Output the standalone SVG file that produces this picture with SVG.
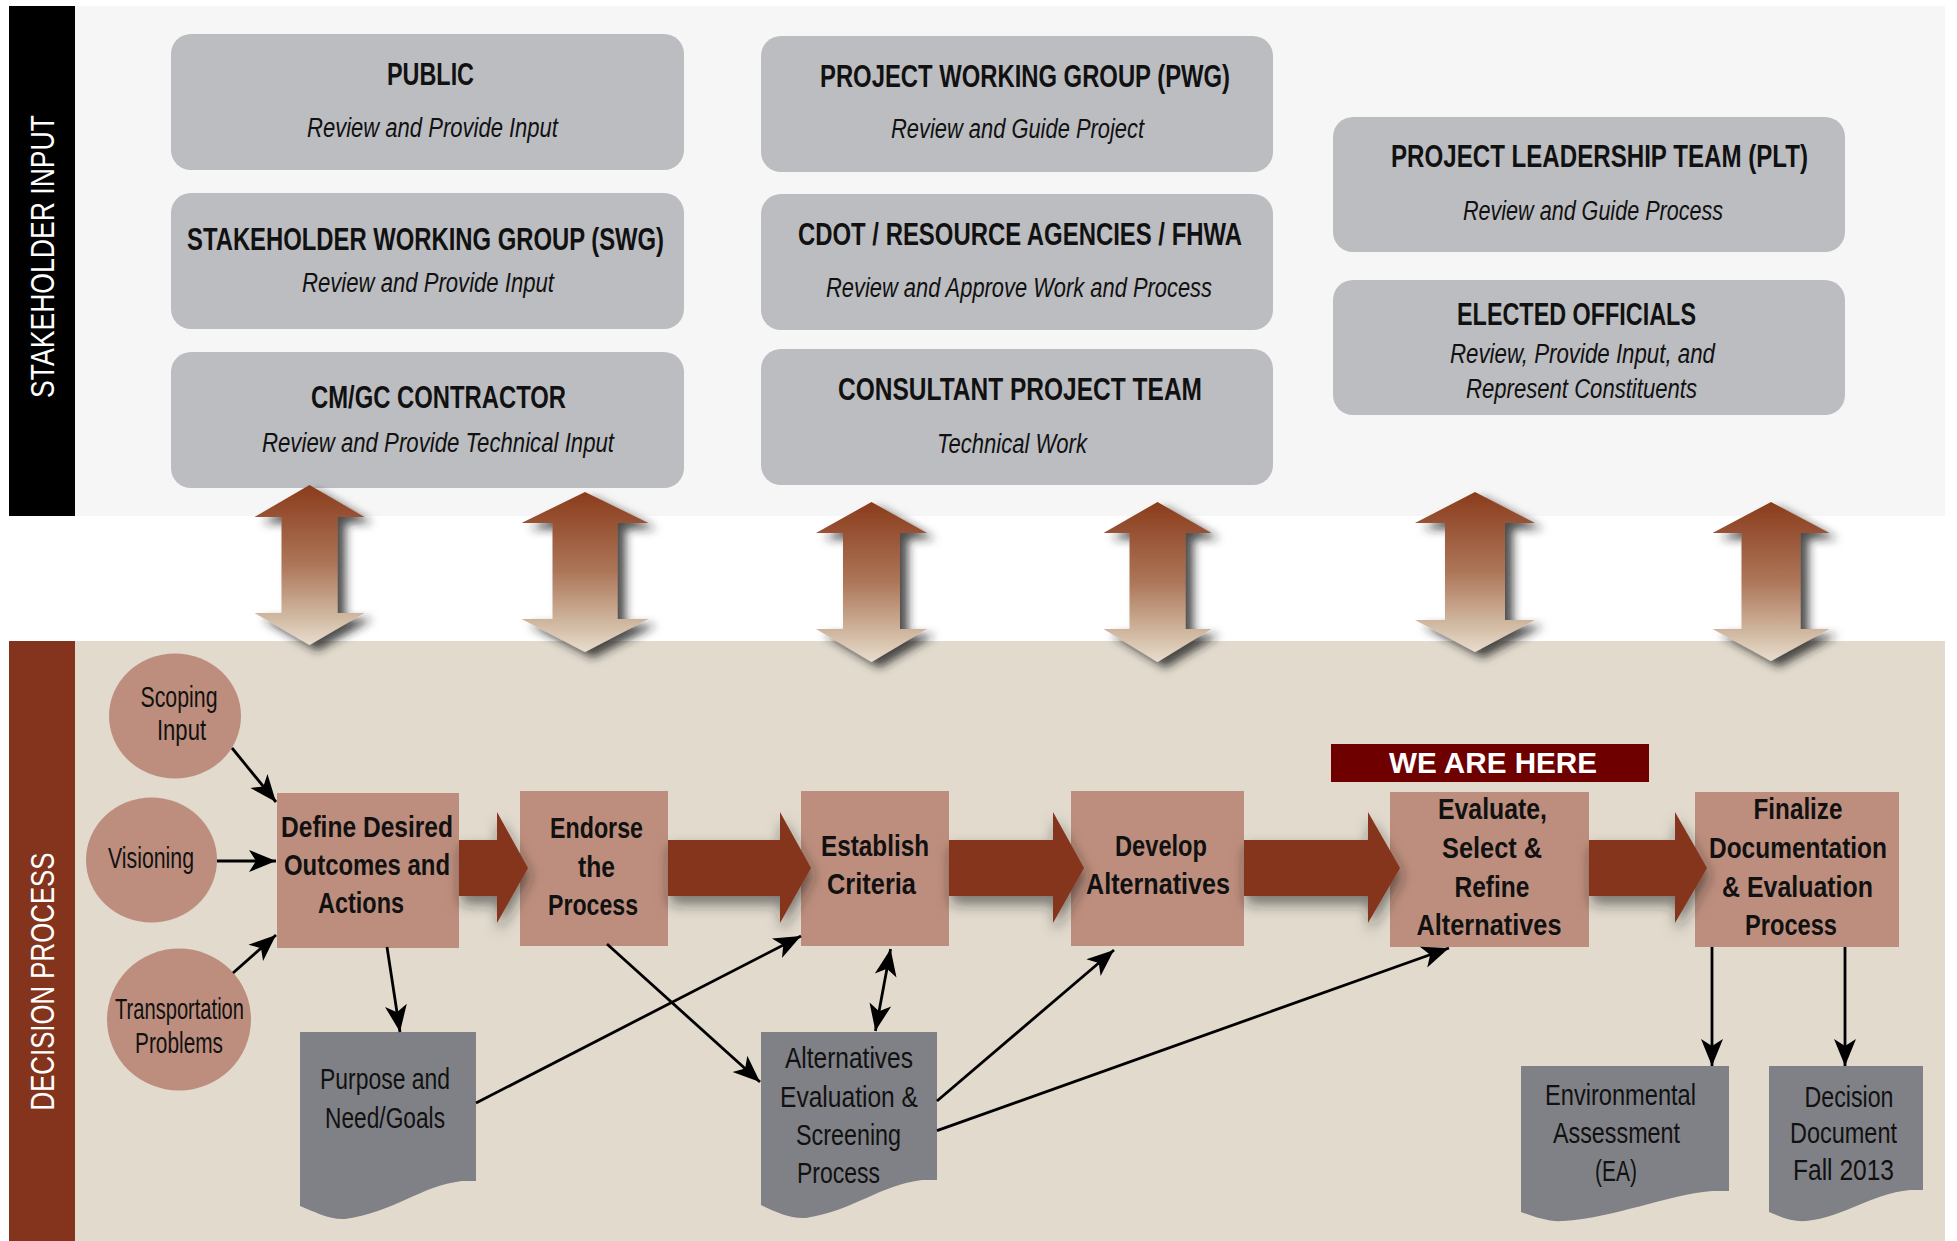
<svg xmlns="http://www.w3.org/2000/svg" width="1957" height="1241" viewBox="0 0 1957 1241">
<defs>
<style>
.sbox{fill:#bcbdc1}
.tt{font-family:"Liberation Sans Narrow","Liberation Sans",Arial,sans-serif;font-weight:bold;font-size:32px;fill:#111;text-anchor:middle}
.ts{font-family:"Liberation Sans Narrow","Liberation Sans",Arial,sans-serif;font-style:italic;font-size:27px;fill:#111;text-anchor:middle}
.side{font-family:"Liberation Sans",Arial,sans-serif;font-size:34px;fill:#fff;text-anchor:middle}
.pbox{fill:#bd8e7d}
.tb{font-family:"Liberation Sans Narrow","Liberation Sans",Arial,sans-serif;font-weight:bold;font-size:29.5px;fill:#111;text-anchor:middle}
.tn{font-family:"Liberation Sans Narrow","Liberation Sans",Arial,sans-serif;font-size:29px;fill:#111;text-anchor:middle}
.doc{fill:#808186}
.conn{stroke:#000;stroke-width:2.8;fill:none;marker-end:url(#ah)}
.barrow{fill:#85351b;filter:url(#bsh)}
.darrow{fill:url(#dg);filter:url(#dsh)}
.here{font-family:"Liberation Sans",Arial,sans-serif;font-weight:bold;font-size:29px;fill:#fff;text-anchor:middle}
</style>
<linearGradient id="dg" x1="0" y1="0" x2="0" y2="1">
<stop offset="0" stop-color="#8a3c1c"/>
<stop offset="0.5" stop-color="#ad7659"/>
<stop offset="0.85" stop-color="#d4bea7"/>
<stop offset="1" stop-color="#e8ddcf"/>
</linearGradient>
<filter id="dsh" x="-40%" y="-20%" width="190%" height="150%">
<feDropShadow dx="8" dy="6" stdDeviation="5" flood-color="#222" flood-opacity="0.8"/>
</filter>
<filter id="bsh" x="-30%" y="-40%" width="160%" height="200%">
<feDropShadow dx="2" dy="8" stdDeviation="7" flood-color="#222" flood-opacity="0.55"/>
</filter>
<marker id="ah" markerUnits="userSpaceOnUse" markerWidth="30" markerHeight="24" viewBox="-28 -12 30 24" refX="0" refY="0" orient="auto-start-reverse">
<path d="M0,0 L-27,-11 L-20,0 L-27,11 Z" fill="#000"/>
</marker>
</defs>

<rect x="0" y="0" width="1957" height="1241" fill="#fff"/>

<g id="stakeholder-panel">
<rect x="9" y="6" width="1936" height="510" fill="#f5f6f5"/>
<rect x="9" y="6" width="66" height="510" fill="#000"/>
<text class="side" transform="translate(54,256.5) rotate(-90)" textLength="283" lengthAdjust="spacingAndGlyphs">STAKEHOLDER INPUT</text>
</g>

<g id="decision-panel">
<rect x="9" y="641" width="1936" height="600" fill="#e1dacd"/>
<rect x="9" y="641" width="66" height="600" fill="#84341c"/>
<text class="side" transform="translate(54,981.5) rotate(-90)" textLength="258" lengthAdjust="spacingAndGlyphs">DECISION PROCESS</text>
</g>

<g id="node-public">
<rect class="sbox" x="171" y="34" width="513" height="136" rx="20"/>
<text class="tt" x="430.5" y="85" textLength="87" lengthAdjust="spacingAndGlyphs">PUBLIC</text>
<text class="ts" x="432.5" y="137" textLength="251" lengthAdjust="spacingAndGlyphs">Review and Provide Input</text>
</g>
<g id="node-swg">
<rect class="sbox" x="171" y="193" width="513" height="136" rx="20"/>
<text class="tt" x="425.5" y="250" textLength="477" lengthAdjust="spacingAndGlyphs">STAKEHOLDER WORKING GROUP (SWG)</text>
<text class="ts" x="428" y="292" textLength="252" lengthAdjust="spacingAndGlyphs">Review and Provide Input</text>
</g>
<g id="node-cmgc">
<rect class="sbox" x="171" y="352" width="513" height="136" rx="20"/>
<text class="tt" x="438.5" y="408" textLength="255" lengthAdjust="spacingAndGlyphs">CM/GC CONTRACTOR</text>
<text class="ts" x="438" y="452" textLength="352" lengthAdjust="spacingAndGlyphs">Review and Provide Technical Input</text>
</g>
<g id="node-pwg">
<rect class="sbox" x="761" y="36" width="512" height="136" rx="20"/>
<text class="tt" x="1025" y="87" textLength="410" lengthAdjust="spacingAndGlyphs">PROJECT WORKING GROUP (PWG)</text>
<text class="ts" x="1017.5" y="138" textLength="253" lengthAdjust="spacingAndGlyphs">Review and Guide Project</text>
</g>
<g id="node-cdot">
<rect class="sbox" x="761" y="194" width="512" height="136" rx="20"/>
<text class="tt" x="1020" y="245" textLength="444" lengthAdjust="spacingAndGlyphs">CDOT / RESOURCE AGENCIES / FHWA</text>
<text class="ts" x="1019" y="297" textLength="386" lengthAdjust="spacingAndGlyphs">Review and Approve Work and Process</text>
</g>
<g id="node-consultant">
<rect class="sbox" x="761" y="349" width="512" height="136" rx="20"/>
<text class="tt" x="1020" y="400" textLength="364" lengthAdjust="spacingAndGlyphs">CONSULTANT PROJECT TEAM</text>
<text class="ts" x="1012" y="453" textLength="150" lengthAdjust="spacingAndGlyphs">Technical Work</text>
</g>
<g id="node-plt">
<rect class="sbox" x="1333" y="117" width="512" height="135" rx="20"/>
<text class="tt" x="1599.5" y="167" textLength="417" lengthAdjust="spacingAndGlyphs">PROJECT LEADERSHIP TEAM (PLT)</text>
<text class="ts" x="1593" y="220" textLength="260" lengthAdjust="spacingAndGlyphs">Review and Guide Process</text>
</g>
<g id="node-elected">
<rect class="sbox" x="1333" y="280" width="512" height="135" rx="20"/>
<text class="tt" x="1576.5" y="325" textLength="239" lengthAdjust="spacingAndGlyphs">ELECTED OFFICIALS</text>
<text class="ts" x="1582.5" y="363" textLength="265" lengthAdjust="spacingAndGlyphs">Review, Provide Input, and</text>
<text class="ts" x="1581.5" y="398" textLength="231" lengthAdjust="spacingAndGlyphs">Represent Constituents</text>
</g>

<g id="node-scoping">
<ellipse class="pbox" cx="175" cy="716" rx="66" ry="62.5"/>
<text class="tn" x="179" y="707" textLength="77" lengthAdjust="spacingAndGlyphs">Scoping</text>
<text class="tn" x="181.5" y="740" textLength="49" lengthAdjust="spacingAndGlyphs">Input</text>
</g>
<g id="node-visioning">
<ellipse class="pbox" cx="151.5" cy="860" rx="65.5" ry="62.5"/>
<text class="tn" x="151" y="868" textLength="86" lengthAdjust="spacingAndGlyphs">Visioning</text>
</g>
<g id="node-transportation">
<ellipse class="pbox" cx="179" cy="1019.5" rx="72" ry="71"/>
<text class="tn" x="179.5" y="1019" textLength="129" lengthAdjust="spacingAndGlyphs">Transportation</text>
<text class="tn" x="179" y="1053" textLength="88" lengthAdjust="spacingAndGlyphs">Problems</text>
</g>

<g id="node-define">
<rect class="pbox" x="277" y="793" width="182" height="155"/>
<text class="tb" x="367" y="837" textLength="172" lengthAdjust="spacingAndGlyphs">Define Desired</text>
<text class="tb" x="367" y="875" textLength="166" lengthAdjust="spacingAndGlyphs">Outcomes and</text>
<text class="tb" x="361" y="913" textLength="86" lengthAdjust="spacingAndGlyphs">Actions</text>
</g>
<g id="node-endorse">
<rect class="pbox" x="520" y="791" width="148" height="155"/>
<text class="tb" x="596.5" y="838" textLength="93" lengthAdjust="spacingAndGlyphs">Endorse</text>
<text class="tb" x="596.5" y="877" textLength="37" lengthAdjust="spacingAndGlyphs">the</text>
<text class="tb" x="593" y="915" textLength="90" lengthAdjust="spacingAndGlyphs">Process</text>
</g>
<g id="node-establish">
<rect class="pbox" x="801" y="791" width="148" height="155"/>
<text class="tb" x="875" y="856" textLength="108" lengthAdjust="spacingAndGlyphs">Establish</text>
<text class="tb" x="871.5" y="894" textLength="89" lengthAdjust="spacingAndGlyphs">Criteria</text>
</g>
<g id="node-develop">
<rect class="pbox" x="1071" y="791" width="173" height="155"/>
<text class="tb" x="1161" y="856" textLength="92" lengthAdjust="spacingAndGlyphs">Develop</text>
<text class="tb" x="1158" y="894" textLength="144" lengthAdjust="spacingAndGlyphs">Alternatives</text>
</g>
<g id="node-here">
<rect x="1331" y="744" width="318" height="38" fill="#6e0000"/>
<text class="here" x="1493" y="773" textLength="208" lengthAdjust="spacingAndGlyphs">WE ARE HERE</text>
</g>
<g id="node-evaluate">
<rect class="pbox" x="1390" y="792" width="199" height="155"/>
<text class="tb" x="1492.5" y="819" textLength="109" lengthAdjust="spacingAndGlyphs">Evaluate,</text>
<text class="tb" x="1492" y="858" textLength="100" lengthAdjust="spacingAndGlyphs">Select &amp;</text>
<text class="tb" x="1492" y="897" textLength="75" lengthAdjust="spacingAndGlyphs">Refine</text>
<text class="tb" x="1489" y="935" textLength="145" lengthAdjust="spacingAndGlyphs">Alternatives</text>
</g>
<g id="node-finalize">
<rect class="pbox" x="1695" y="792" width="204" height="155"/>
<text class="tb" x="1798" y="819" textLength="89" lengthAdjust="spacingAndGlyphs">Finalize</text>
<text class="tb" x="1798" y="858" textLength="178" lengthAdjust="spacingAndGlyphs">Documentation</text>
<text class="tb" x="1797.5" y="897" textLength="151" lengthAdjust="spacingAndGlyphs">&amp; Evaluation</text>
<text class="tb" x="1791" y="935" textLength="92" lengthAdjust="spacingAndGlyphs">Process</text>
</g>

<g id="node-purpose">
<path class="doc" d="M300,1032 H476 V1181 L462,1181 C420,1186 395,1212 345,1219 C330,1220 315,1212 300,1206 Z"/>
<text class="tn" x="385" y="1089" textLength="130" lengthAdjust="spacingAndGlyphs">Purpose and</text>
<text class="tn" x="385" y="1128" textLength="120" lengthAdjust="spacingAndGlyphs">Need/Goals</text>
</g>
<g id="node-alteval">
<path class="doc" d="M761,1032 H937 V1180 L922,1180 C880,1185 855,1210 806,1218 C790,1219 776,1212 761,1205 Z"/>
<text class="tn" x="849" y="1068" textLength="128" lengthAdjust="spacingAndGlyphs">Alternatives</text>
<text class="tn" x="849" y="1107" textLength="138" lengthAdjust="spacingAndGlyphs">Evaluation &amp;</text>
<text class="tn" x="848.5" y="1145" textLength="105" lengthAdjust="spacingAndGlyphs">Screening</text>
<text class="tn" x="838.5" y="1183" textLength="83" lengthAdjust="spacingAndGlyphs">Process</text>
</g>
<g id="node-ea">
<path class="doc" d="M1521,1066 H1729 V1191 L1712,1191 C1665,1195 1615,1218 1563,1221 C1548,1222 1535,1217 1521,1212 Z"/>
<text class="tn" x="1620.5" y="1105" textLength="151" lengthAdjust="spacingAndGlyphs">Environmental</text>
<text class="tn" x="1616.5" y="1143" textLength="127" lengthAdjust="spacingAndGlyphs">Assessment</text>
<text class="tn" x="1616" y="1181" textLength="42" lengthAdjust="spacingAndGlyphs">(EA)</text>
</g>
<g id="node-decision">
<path class="doc" d="M1769,1066 H1923 V1190 L1910,1190 C1870,1194 1845,1217 1806,1221 C1793,1222 1781,1217 1769,1212 Z"/>
<text class="tn" x="1849" y="1107" textLength="89" lengthAdjust="spacingAndGlyphs">Decision</text>
<text class="tn" x="1843.5" y="1143" textLength="107" lengthAdjust="spacingAndGlyphs">Document</text>
<text class="tn" x="1843.5" y="1180" textLength="101" lengthAdjust="spacingAndGlyphs">Fall 2013</text>
</g>

<g id="connectors">
<g id="input-arrows">
<path class="darrow" d="M309.5,485 L364.5,517 L337.5,517 L337.5,613 L364.5,613 L309.5,645 L254.5,613 L281.5,613 L281.5,517 L254.5,517 Z"/>
<path class="darrow" d="M585,492 L648.5,523 L617.5,523 L617.5,619 L648.5,619 L585,652 L521.5,619 L552.5,619 L552.5,523 L521.5,523 Z"/>
<path class="darrow" d="M871.5,502 L927,533 L900,533 L900,629 L927,629 L871.5,662 L816,629 L843,629 L843,533 L816,533 Z"/>
<path class="darrow" d="M1157.5,502 L1211.5,533 L1185.5,533 L1185.5,629 L1211.5,629 L1157.5,662 L1103.5,629 L1129.5,629 L1129.5,533 L1103.5,533 Z"/>
<path class="darrow" d="M1475,492 L1535,523 L1505,523 L1505,620 L1535,620 L1475,652 L1415,620 L1445,620 L1445,523 L1415,523 Z"/>
<path class="darrow" d="M1771,502 L1829.5,533 L1800.5,533 L1800.5,629 L1829.5,629 L1771,661 L1712.5,629 L1741.5,629 L1741.5,533 L1712.5,533 Z"/>
</g>
<g id="process-arrows">
<path class="barrow" d="M459,840 H497 V812 L528,868 L497,923 V896 H459 Z"/>
<path class="barrow" d="M668,840 H780 V812 L811,868 L780,923 V896 H668 Z"/>
<path class="barrow" d="M949,840 H1053 V812 L1084,868 L1053,923 V896 H949 Z"/>
<path class="barrow" d="M1244,840 H1368 V812 L1400,868 L1368,923 V896 H1244 Z"/>
<path class="barrow" d="M1589,840 H1675 V812 L1707,868 L1675,923 V896 H1589 Z"/>
</g>
<g id="links">
<line class="conn" x1="232" y1="748" x2="276" y2="802"/>
<line class="conn" x1="217" y1="861" x2="276" y2="861"/>
<line class="conn" x1="233" y1="973" x2="276" y2="935"/>
<line class="conn" x1="387" y1="947" x2="400" y2="1032"/>
<line class="conn" x1="607" y1="944" x2="760" y2="1082"/>
<line class="conn" x1="476" y1="1103" x2="801" y2="936"/>
<line class="conn" x1="890.6" y1="949" x2="875.4" y2="1031" style="marker-start:url(#ah)"/>
<line class="conn" x1="937" y1="1101" x2="1114" y2="950"/>
<line class="conn" x1="937" y1="1130.6" x2="1449" y2="948"/>
<line class="conn" x1="1712" y1="947" x2="1712" y2="1066"/>
<line class="conn" x1="1845" y1="947" x2="1845" y2="1066"/>
</g>
</g>
</svg>
